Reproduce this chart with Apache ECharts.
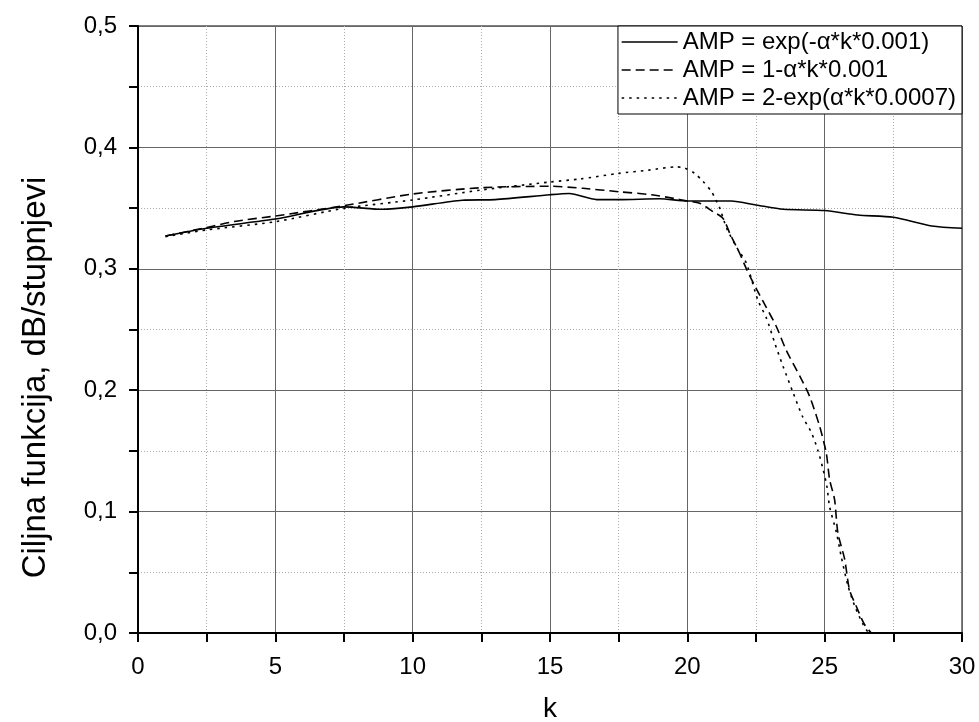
<!DOCTYPE html>
<html>
<head>
<meta charset="utf-8">
<script src="https://cdn.jsdelivr.net/npm/echarts@6/dist/echarts.min.js"></script>
<style>
html,body{margin:0;padding:0;background:#fff;}
#c{width:979px;height:722px;}
</style>
</head>
<body>
<div id="c"></div>
<script>
// ---- data ----
const seriesNames = [
  'AMP = exp(-\u03B1*k*0.001)',
  'AMP = 1-\u03B1*k*0.001',
  'AMP = 2-exp(\u03B1*k*0.0007)'
];
const kExp = [1, 2.5, 5, 7.5, 8.9, 10, 11.8, 13, 15, 15.7, 16.7, 17.5, 19, 20, 21.6, 22.5, 23.5, 25, 26.2, 27.5, 28.9, 30];
const vExp = [0.327, 0.3334, 0.341, 0.351, 0.349, 0.351, 0.3565, 0.357, 0.361, 0.362, 0.357, 0.357, 0.3577, 0.3558, 0.3558, 0.3526, 0.349, 0.348, 0.3443, 0.3424, 0.3353, 0.3334];

const kLin = [1, 2.5, 3.5, 5, 7.5, 10, 12.5, 15, 16.2, 17.5, 18.7, 19.5, 20, 20.45, 20.94, 21.3, 21.55, 21.9, 22.15, 22.5, 22.88, 23.24, 23.6, 24.1, 24.45, 24.82, 25.06, 25.18, 25.36, 25.48, 25.73, 25.9, 26.15, 26.45, 26.7];
const vLin = [0.327, 0.334, 0.339, 0.3435, 0.352, 0.3616, 0.3668, 0.368, 0.3663, 0.3635, 0.361, 0.358, 0.3558, 0.354, 0.347, 0.3415, 0.329, 0.313, 0.3, 0.284, 0.268, 0.2525, 0.233, 0.2114, 0.195, 0.17, 0.148, 0.1264, 0.11, 0.0826, 0.0606, 0.0359, 0.022, 0.007, 0];

const kTwo = [1, 2.5, 5, 7.5, 10, 12.5, 15, 16.1, 17.5, 18.6, 19.6, 19.9, 20.27, 20.57, 20.88, 21.18, 21.43, 21.79, 22.15, 22.57, 22.88, 23.18, 23.48, 23.85, 24.2, 24.52, 24.76, 24.94, 25.08, 25.18, 25.43, 25.6, 25.85, 26.1, 26.4, 26.6];
const vTwo = [0.3265, 0.332, 0.3388, 0.3498, 0.3567, 0.3649, 0.3715, 0.374, 0.3786, 0.3813, 0.384, 0.383, 0.3786, 0.372, 0.3635, 0.35, 0.3334, 0.318, 0.3046, 0.274, 0.2594, 0.239, 0.22, 0.198, 0.178, 0.165, 0.15, 0.135, 0.121, 0.104, 0.0826, 0.0633, 0.0387, 0.022, 0.007, 0];

const xTicks = [0, 5, 10, 15, 20, 25, 30];
const yTicks = [0, 0.1, 0.2, 0.3, 0.4, 0.5];

const zip = (a, b) => a.map((x, i) => [x, b[i]]);
const FONT = '"Liberation Sans", Arial, sans-serif';

const chart = echarts.init(document.getElementById('c'), null, {renderer: 'canvas'});
const lineTypes = ['solid', [9, 5], [2.5, 5]];
const datas = [zip(kExp, vExp), zip(kLin, vLin), zip(kTwo, vTwo)];

chart.setOption({
  animation: false,
  backgroundColor: '#fff',
  grid: {left: 138, right: 17, top: 26, bottom: 89, outerBoundsMode: 'none', containLabel: false,
    show: true, borderColor: '#000', borderWidth: 1, backgroundColor: 'transparent'},
  legend: {
    orient: 'vertical',
    right: 17, top: 26,
    backgroundColor: '#fff',
    borderColor: '#000', borderWidth: 1,
    padding: [4, 6, 4, 3],
    itemGap: 4,
    itemWidth: 56, itemHeight: 14,
    itemStyle: {opacity: 0},
    lineStyle: {width: 1.4},
    textStyle: {fontFamily: FONT, fontSize: 24, color: '#000'},
    data: seriesNames
  },
  xAxis: {
    type: 'value', min: 0, max: 30, interval: 5,
    name: 'k', nameLocation: 'middle', nameGap: 62,
    nameTextStyle: {fontFamily: FONT, fontSize: 28, color: '#000'},
    axisLine: {show: true, onZero: false, lineStyle: {color: '#000', width: 2}},
    axisTick: {show: true, inside: false, length: 9, lineStyle: {color: '#000', width: 2}},
    minorTick: {show: true, splitNumber: 2, length: 9, lineStyle: {color: '#000', width: 2}},
    axisLabel: {fontFamily: FONT, fontSize: 24, color: '#000', margin: 22,
      formatter: v => xTicks.includes(v) ? String(v) : ''},
    splitLine: {show: true, lineStyle: {color: '#666', width: 1}},
    minorSplitLine: {show: true, lineStyle: {color: '#aaa', width: 1, type: [1, 2]}}
  },
  yAxis: {
    type: 'value', min: 0, max: 0.5, interval: 0.1,
    name: 'Ciljna funkcija, dB/stupnjevi', nameLocation: 'middle', nameGap: 86, nameRotate: 90,
    nameTextStyle: {fontFamily: FONT, fontSize: 33, color: '#000', padding: [0, 96, 0, 0]},
    axisLine: {show: true, onZero: false, lineStyle: {color: '#000', width: 2}},
    axisTick: {show: true, inside: false, length: 9, lineStyle: {color: '#000', width: 2}},
    minorTick: {show: true, splitNumber: 2, length: 9, lineStyle: {color: '#000', width: 2}},
    axisLabel: {fontFamily: FONT, fontSize: 24, color: '#000', margin: 21,
      formatter: v => { const t = yTicks.find(y => Math.abs(y - v) < 1e-9); return t === undefined ? '' : t.toFixed(1).replace('.', ','); }},
    splitLine: {show: true, lineStyle: {color: '#666', width: 1}},
    minorSplitLine: {show: true, lineStyle: {color: '#aaa', width: 1, type: [1, 2]}}
  },
  series: seriesNames.map((n, i) => ({
    name: n, type: 'line', data: datas[i],
    showSymbol: false, symbol: 'none',
    smooth: 0.25,
    lineStyle: {color: '#000', width: 1.6, type: lineTypes[i]},
    itemStyle: {color: '#000'}
  }))
});
</script>
</body>
</html>
